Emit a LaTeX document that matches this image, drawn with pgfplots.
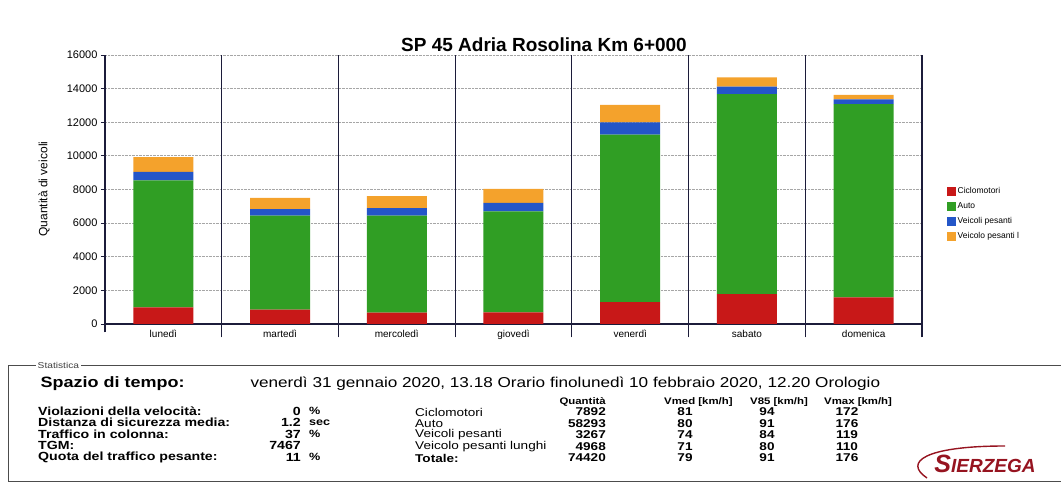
\documentclass[border=0pt]{standalone}
\usepackage{pgfplots}
\pgfplotsset{compat=1.18}
\usepackage{fontspec}
\setmainfont{Liberation Sans}
\newfontfamily\stfont[FakeStretch=1.2]{Liberation Sans}
\definecolor{cRed}{RGB}{200,24,24}
\definecolor{cGreen}{RGB}{48,158,36}
\definecolor{cBlue}{RGB}{36,86,200}
\definecolor{cOrange}{RGB}{244,162,44}
\definecolor{sepc}{RGB}{28,28,58}
\definecolor{logored}{RGB}{150,20,32}
\newcommand{\fs}[1]{\fontsize{#1}{#1}\selectfont}
\begin{document}
\begin{tikzpicture}[x=1pt,y=1pt]
\path[use as bounding box] (0,0) rectangle (1061,-494);
\node[font=\fs{19}\bfseries] at (544,-45) {SP 45 Adria Rosolina Km 6+000};
\node[rotate=90, font=\fs{12}] at (44,-189) {Quantità di veicoli};
\begin{axis}[
  at={(105pt,-324pt)}, anchor=south west,
  scale only axis, width=817pt, height=269pt,
  xmin=-0.5, xmax=6.5, ymin=0, ymax=16000,
  ybar stacked, bar width=60pt,
  clip=false,
  axis lines*=left,
  axis line style={sepc, line width=1.2pt},
  xtick={0,...,6},
  xticklabels={lunedì,martedì,mercoledì,giovedì,venerdì,sabato,domenica},
  x tick style={draw=none},
  x tick label style={font=\fs{10}, yshift=1pt},
  ytick={0,2000,...,16000},
  y tick style={sepc, line width=0.8pt},
  tick align=outside, major tick length=4pt,
  y tick label style={font=\fs{11}},
  scaled y ticks=false,
  /pgf/number format/1000 sep={},
  /pgf/number format/assume math mode=true,
  ymajorgrids,
  major grid style={densely dotted, gray!70, line width=0.8pt},
  legend style={at={(1.03,0.515)}, anchor=north west, draw=none, fill=none,
    font=\fs{8.5}, row sep=3.5pt, inner sep=0pt},
  legend cell align=left,
  legend image code/.code={\fill[#1] (0pt,-4.5pt) rectangle (9pt,4.5pt);},
]
\addplot[fill=cRed, draw=none] coordinates {(0,990) (1,860) (2,680) (3,690) (4,1300) (5,1780) (6,1590)};
\addplot[fill=cGreen, draw=none] coordinates {(0,7560) (1,5590) (2,5770) (3,6010) (4,9970) (5,11900) (6,11490)};
\addplot[fill=cBlue, draw=none] coordinates {(0,500) (1,390) (2,440) (3,500) (4,720) (5,440) (6,275)};
\addplot[fill=cOrange, draw=none] coordinates {(0,880) (1,660) (2,720) (3,830) (4,1050) (5,550) (6,275)};
\legend{Ciclomotori, Auto, Veicoli pesanti, Veicolo pesanti l}
\draw[sepc, line width=1.2pt] (axis cs:-0.5,-500) -- (axis cs:-0.5,0);
\draw[sepc, line width=1.2pt] (axis cs:0.5,-800) -- (axis cs:0.5,16000);
\draw[sepc, line width=1.2pt] (axis cs:1.5,-800) -- (axis cs:1.5,16000);
\draw[sepc, line width=1.2pt] (axis cs:2.5,-800) -- (axis cs:2.5,16000);
\draw[sepc, line width=1.2pt] (axis cs:3.5,-800) -- (axis cs:3.5,16000);
\draw[sepc, line width=1.2pt] (axis cs:4.5,-800) -- (axis cs:4.5,16000);
\draw[sepc, line width=1.2pt] (axis cs:5.5,-800) -- (axis cs:5.5,16000);
\draw[sepc, line width=1.2pt] (axis cs:6.5,-800) -- (axis cs:6.5,16000);
\end{axis}
% statistics box
\draw[gray!60!black, line width=0.9pt] (1061,-365) -- (8,-365) -- (8,-481) -- (1061,-481);
\node[fill=white, inner sep=1.5pt, anchor=west, font=\fs{8.5}\stfont, text=black!75] at (36,-365) {Statistica};
\node[anchor=west, font=\stfont\fs{15}\bfseries] at (37,-384) {Spazio di tempo:};
\node[anchor=west, font=\stfont\fs{14.3}] at (247,-384) {venerdì 31 gennaio 2020, 13.18 Orario finolunedì 10 febbraio 2020, 12.20 Orologio};
% left block
\foreach \t/\v/\u/\yy in {Violazioni della velocità:/0/\%/411, Distanza di sicurezza media:/1.2/sec/422.5, Traffico in colonna:/37/\%/434, TGM:/7467//445.5, Quota del traffico pesante:/11/\%/457}{
  \node[anchor=west, font=\stfont\fs{11.8}\bfseries, inner sep=0pt] at (38,-\yy) {\t};
  \node[anchor=east, font=\stfont\fs{11.8}\bfseries, inner sep=0pt] at (301,-\yy) {\v};
  \node[anchor=west, font=\stfont\fs{10.5}\bfseries, inner sep=0pt] at (309,-\yy) {\u};
}
% right block
\node[anchor=east, font=\stfont\fs{9.5}\bfseries, inner sep=0pt] at (606,-402) {Quantità};
\node[anchor=west, font=\stfont\fs{9.5}\bfseries, inner sep=0pt] at (664,-402) {Vmed [km/h]};
\node[anchor=west, font=\stfont\fs{9.5}\bfseries, inner sep=0pt] at (750,-402) {V85 [km/h]};
\node[anchor=west, font=\stfont\fs{9.5}\bfseries, inner sep=0pt] at (824,-402) {Vmax [km/h]};
\foreach \t/\q/\a/\b/\c/\yy in {Ciclomotori/7892/81/94/172/412, Auto/58293/80/91/176/423.5, Veicoli pesanti/3267/74/84/119/435, Veicolo pesanti lunghi/4968/71/80/110/446.5, \textbf{Totale:}/74420/79/91/176/458}{
  \node[anchor=west, font=\stfont\fs{11.3}, inner sep=0pt] at (415,-\yy) {\t};
  \node[anchor=east, font=\stfont\fs{11.3}\bfseries, inner sep=0pt] at (606,-\yy) {\q};
  \node[font=\stfont\fs{11.3}\bfseries, inner sep=0pt] at (685,-\yy) {\a};
  \node[font=\stfont\fs{11.3}\bfseries, inner sep=0pt] at (767,-\yy) {\b};
  \node[font=\stfont\fs{11.3}\bfseries, inner sep=0pt] at (847,-\yy) {\c};
}
% logo
\draw[logored, line width=1.4pt] (927,-478) .. controls (903,-462) and (925,-446) .. (1005,-446);
\node[font=\fs{19}\bfseries\itshape, text=logored] at (985,-464) {{\fs{25}S}IERZEGA};
\end{tikzpicture}
\end{document}
